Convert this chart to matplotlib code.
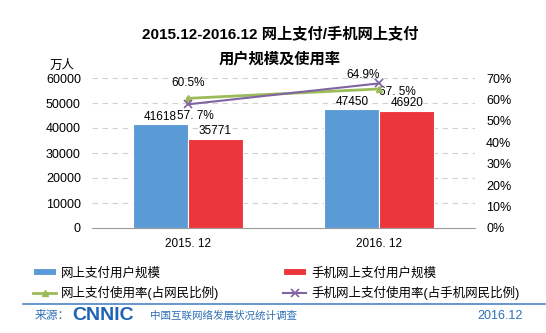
import matplotlib
matplotlib.use("Agg")
import matplotlib.pyplot as plt
from matplotlib.lines import Line2D
import numpy as np

plt.rcParams['font.family'] = ['Liberation Sans', 'Noto Sans CJK SC', 'DejaVu Sans']

# ---------------------------
# data
# ---------------------------
periods = ["2015. 12", "2016. 12"]
pay_users = [41618, 47450]          # 网上支付用户规模 (万人)
mobile_pay_users = [35771, 46920]   # 手机网上支付用户规模 (万人)
pay_rate = [60.5, 64.9]             # 网上支付使用率 (%)
mobile_pay_rate = [57.7, 67.5]      # 手机网上支付使用率 (%)
pay_rate_labels = ["60.5%", "64.9%"]
mobile_rate_labels = ["57. 7%", "67. 5%"]
left_ticks = [0, 10000, 20000, 30000, 40000, 50000, 60000]
right_ticks = [0, 10, 20, 30, 40, 50, 60, 70]

BLUE = "#5B9BD5"
RED = "#EC363D"
GREEN = "#9BBB59"
PURPLE = "#8064A2"
FOOT = "#2E6FB7"

W, H = 546, 333
fig = plt.figure(figsize=(W / 100, H / 100), dpi=100)
fig.patch.set_facecolor("white")

ax = fig.add_axes([92 / W, 1 - 228 / H, 383 / W, 150 / H])
ax2 = ax.twinx()

x = np.arange(len(periods))
bw = 0.287
b1 = ax.bar(x - bw / 2, pay_users, bw, color=BLUE, edgecolor="white", linewidth=0.8,
            label="网上支付用户规模", zorder=3)
b2 = ax.bar(x + bw / 2, mobile_pay_users, bw, color=RED, edgecolor="white", linewidth=0.8,
            label="手机网上支付用户规模", zorder=3)

for rect, v in zip(b1, pay_users):
    ax.annotate(str(v), (rect.get_x() + rect.get_width() / 2, v), xytext=(0, 1),
                textcoords="offset points", ha="center", va="bottom", fontsize=8.5)
for rect, v in zip(b2, mobile_pay_users):
    ax.annotate(str(v), (rect.get_x() + rect.get_width() / 2, v), xytext=(0, 1),
                textcoords="offset points", ha="center", va="bottom", fontsize=8.5)

ax.set_xlim(-0.5, 1.5)
ax.set_ylim(0, 60000)
ax.set_yticks(left_ticks)
ax.set_xticks(x)
ax.set_xticklabels(periods, fontsize=8.5)
ax.tick_params(axis="y", labelsize=9, length=0, pad=8)
ax.tick_params(axis="x", length=0, pad=7)
for g in left_ticks[1:]:
    ax.axhline(g, color="#d0d0d0", lw=0.8, ls=(0, (5, 4)), zorder=1)
for s in ["top", "left", "right"]:
    ax.spines[s].set_visible(False)
ax.spines["bottom"].set_color("#9a9a9a")

l1, = ax2.plot(x, pay_rate, color=GREEN, lw=2, marker="^", ms=5,
               label="网上支付使用率(占网民比例)", zorder=4)
l2, = ax2.plot(x, mobile_pay_rate, color=PURPLE, lw=1.5, marker="x", ms=6, mew=1.2,
               label="手机网上支付使用率(占手机网民比例)", zorder=4)
ax2.set_ylim(0, 70)
ax2.set_yticks(right_ticks)
ax2.set_yticklabels([f"{t}%" for t in right_ticks])
ax2.tick_params(axis="y", labelsize=9, length=0, pad=8)
for s in ["top", "left", "right", "bottom"]:
    ax2.spines[s].set_visible(False)

green_off = [(0, 15), (-16, 14)]
purple_off = [(8, -12), (18, -9)]
for xi, v, t, o in zip(x, pay_rate, pay_rate_labels, green_off):
    ax2.annotate(t, (xi, v), xytext=o, textcoords="offset pixels",
                 ha="center", va="center", fontsize=8.5)
for xi, v, t, o in zip(x, mobile_pay_rate, mobile_rate_labels, purple_off):
    ax2.annotate(t, (xi, v), xytext=o, textcoords="offset pixels",
                 ha="center", va="center", fontsize=8.5)

# titles
fig.text(280 / W, 1 - 34 / H, "2015.12-2016.12 网上支付/手机网上支付", ha="center",
         va="center", fontsize=11, fontweight="bold")
fig.text(280 / W, 1 - 59 / H, "用户规模及使用率", ha="center", va="center",
         fontsize=11, fontweight="bold")
fig.text(62 / W, 1 - 66 / H, "万人", ha="center", va="center", fontsize=9)

# legend (row-major order: bars on first row, lines on second)
fig.legend(handles=[b1, l1, b2, l2], loc="upper left", bbox_to_anchor=(33 / W, 1 - 267 / H),
           ncol=2, frameon=False, fontsize=9, handlelength=1.85, handleheight=0.5,
           handletextpad=0.4, columnspacing=5.1, labelspacing=0.5, borderpad=0,
           borderaxespad=0)

# footer
fig.add_artist(Line2D([23 / W, 545 / W], [1 - 304 / H, 1 - 304 / H],
                      color="#4A86C5", lw=1.2))
fig.text(35 / W, 1 - 316 / H, "来源：", ha="left", va="center", fontsize=8.5, color=FOOT)
fig.text(72 / W, 1 - 315 / H, "CNNIC", ha="left", va="center", fontsize=14,
         fontweight="heavy", color="#1F63B5")
fig.text(150 / W, 1 - 316 / H, "中国互联网络发展状况统计调查", ha="left", va="center",
         fontsize=7.6, color=FOOT)
fig.text(523 / W, 1 - 316 / H, "2016.12", ha="right", va="center", fontsize=9, color=FOOT)

fig.savefig("out.png", dpi=100)
